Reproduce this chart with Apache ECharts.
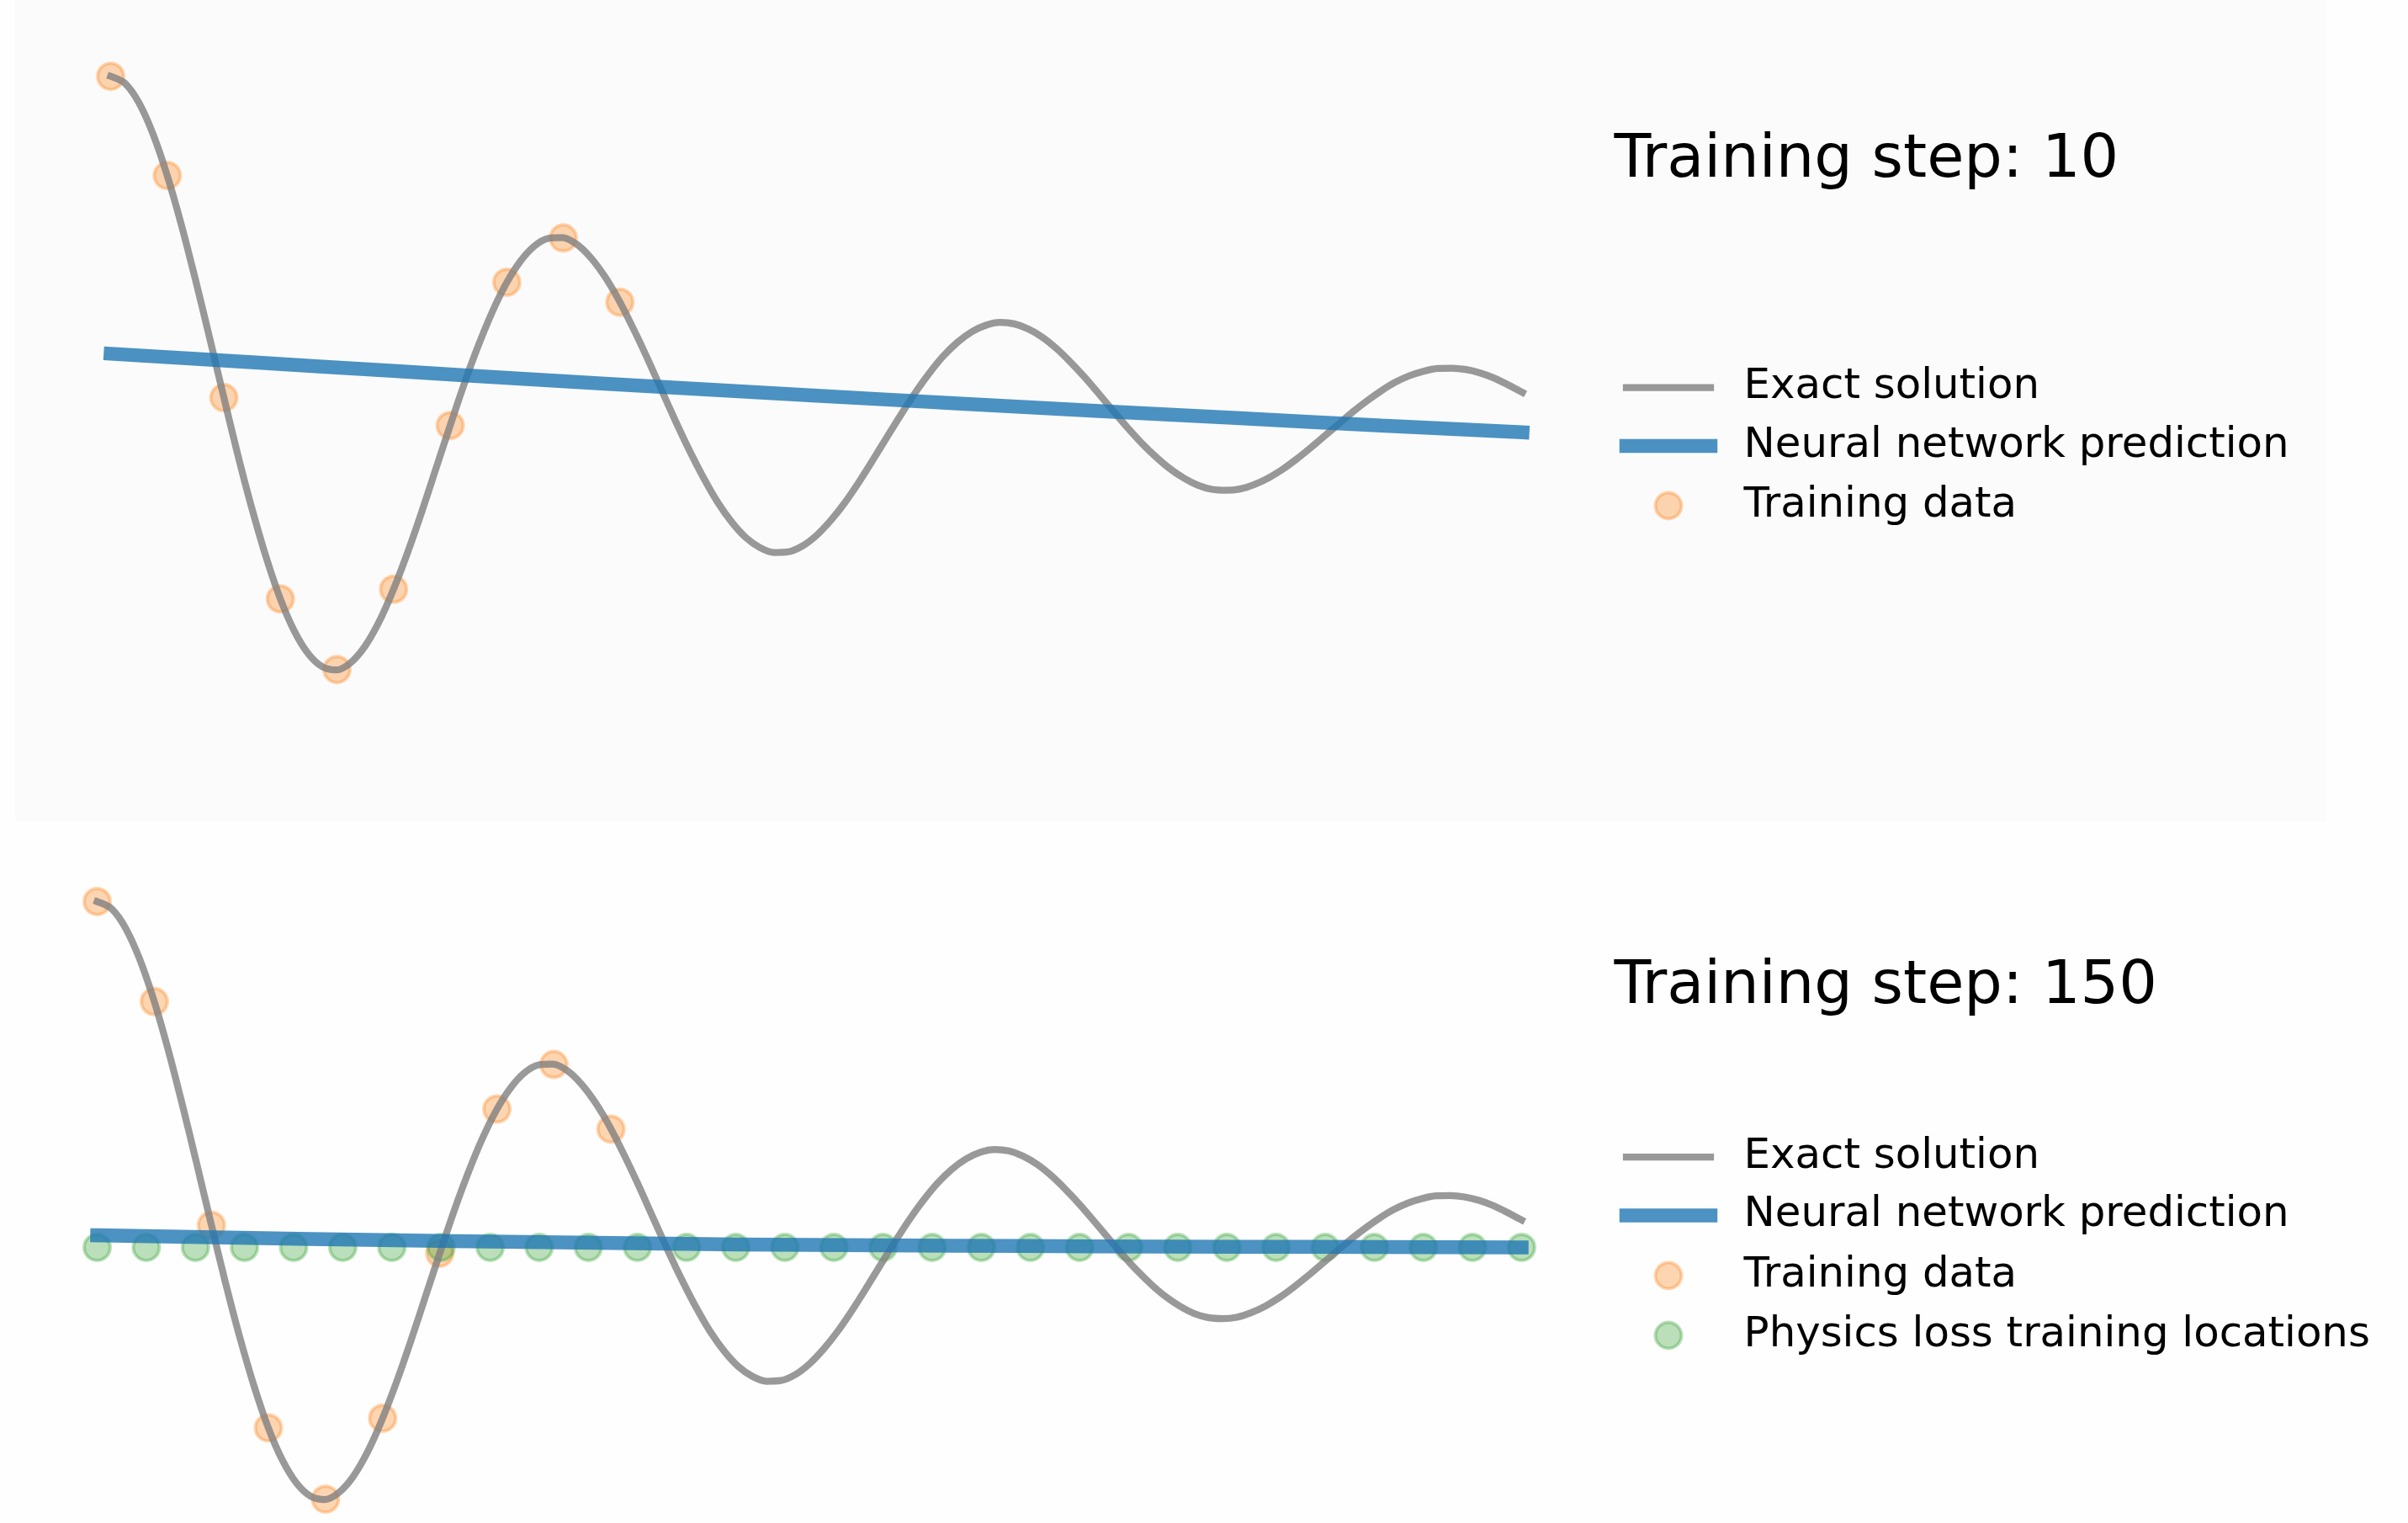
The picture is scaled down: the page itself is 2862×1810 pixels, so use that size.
<!DOCTYPE html>
<html>
<head>
<meta charset="utf-8">
<title>PINN training progress</title>
<script src="https://cdn.jsdelivr.net/npm/echarts@6.0.0/dist/echarts.min.js"></script>
<style>
  html, body { margin: 0; padding: 0; background: #fefefe; }
  #chart { width: 2862px; height: 1810px; }
</style>
</head>
<body>
<div id="chart"></div>
<script>
// ---- data -------------------------------------------------------------
// exact displacement of the damped oscillator, one sample every 0.01 on [0, 1]
const exactStep = 0.01;
const exactSolution = [
   1.000,  0.980,  0.923,  0.832,  0.712,  0.569,  0.409,  0.240,  0.068, -0.101,
  -0.258, -0.399, -0.520, -0.615, -0.682, -0.720, -0.729, -0.708, -0.661, -0.590,
  -0.498, -0.391, -0.273, -0.148, -0.023,  0.099,  0.211,  0.311,  0.395,  0.460,
   0.505,  0.528,  0.530,  0.511,  0.472,  0.417,  0.348,  0.267,  0.180,  0.088,
  -0.003, -0.090, -0.170, -0.241, -0.299, -0.344, -0.373, -0.387, -0.385, -0.368,
  -0.337, -0.294, -0.242, -0.182, -0.117, -0.050,  0.016,  0.079,  0.136,  0.186,
   0.226,  0.256,  0.275,  0.283,  0.279,  0.264,  0.240,  0.207,  0.167,  0.123,
   0.075,  0.026, -0.022, -0.067, -0.107, -0.142, -0.170, -0.191, -0.203, -0.206,
  -0.202, -0.189, -0.170, -0.145, -0.115, -0.082, -0.047, -0.012,  0.023,  0.055,
   0.084,  0.109,  0.128,  0.141,  0.149,  0.150,  0.146,  0.136,  0.121,  0.101,
   0.079
];

// observed samples used for the data loss
const trainX = [0, 0.0401, 0.0802, 0.1202, 0.1603, 0.2004, 0.2405, 0.2806, 0.3206, 0.3607];
const trainY = [1.000, 0.711, 0.064, -0.522, -0.728, -0.494, -0.017, 0.400, 0.529, 0.342];

// collocation points of the physics loss (drawn on the zero line)
const physicsX = [
  0, 0.0345, 0.0690, 0.1034, 0.1379, 0.1724, 0.2069, 0.2414, 0.2759, 0.3103,
  0.3448, 0.3793, 0.4138, 0.4483, 0.4828, 0.5172, 0.5517, 0.5862, 0.6207, 0.6552,
  0.6897, 0.7241, 0.7586, 0.7931, 0.8276, 0.8621, 0.8966, 0.9310, 0.9655, 1.0000
];
const physicsY = 0;

// network output, one sample every 0.1 on [0, 1]
const predStep = 0.1;
const predictionStep10  = [0.192, 0.167, 0.142, 0.117, 0.093, 0.070, 0.047, 0.025, 0.004, -0.017, -0.037];
const predictionStep150 = [0.035, 0.028, 0.021, 0.016, 0.011, 0.007, 0.005, 0.003, 0.002, 0.001, 0.000];

const trainingSteps = [10, 150];
const seriesNames = ['Exact solution', 'Neural network prediction', 'Training data', 'Physics loss training locations'];

// ---- styling ----------------------------------------------------------
const FONT = 'DejaVu Sans';
const GREY = 'rgba(128,128,128,0.8)';
const BLUE = 'rgba(31,119,180,0.8)';
const ORANGE = 'rgba(255,127,14,0.4)';
const GREEN = 'rgba(44,160,44,0.4)';
const LEGEND_FONT = 49.8;
const TITLE_FONT = 71.8;
const LEGEND_TEXT_X = 2072.6;   // left edge of legend labels
const HANDLE_X = 1933;          // start of legend handles

// one panel per training snapshot
const panels = [
  {
    grid: { left: 47.6, top: 49.9, width: 1845.8, height: 897.6 },
    yMin: -1.1, yMax: 1.1,
    prediction: predictionStep10,
    withPhysics: false,
    titleX: 1918.5, titleBaseline: 213,
    legendRows: [457, 526.5, 597.5]
  },
  {
    grid: { left: 30.85, top: 1030.4, width: 1862.3, height: 779.6 },
    yMin: -0.797, yMax: 1.1,
    prediction: predictionStep150,
    withPhysics: true,
    titleX: 1918.5, titleBaseline: 1195,
    legendRows: [1371.5, 1441, 1512.5, 1583.5]
  }
];

// legend handle looks, keyed by series name
const handleLook = {
  'Exact solution':                  { icon: 'rect',   w: 108.25, h: 8.25, dx: -4.125, color: GREY,   border: 0 },
  'Neural network prediction':       { icon: 'rect',   w: 116.5,  h: 16.5, dx: -8.25,  color: BLUE,   border: 0 },
  'Training data':                   { icon: 'circle', w: 100,    h: 31,   dx: 0,      color: ORANGE, border: 4 },
  'Physics loss training locations': { icon: 'circle', w: 100,    h: 31,   dx: 0,      color: GREEN,  border: 4 }
};

const grids = [], xAxes = [], yAxes = [], series = [], legends = [], graphics = [];

// faint panel backdrop of the first snapshot
graphics.push({
  type: 'rect', z: -10, silent: true,
  shape: { x: 18, y: 0, width: 2747, height: 976 },
  style: { fill: '#fbfbfb' }
});

panels.forEach((p, i) => {
  grids.push(Object.assign({ containLabel: false, show: false }, p.grid));
  xAxes.push({ type: 'value', gridIndex: i, min: -0.05, max: 1.05, show: false });
  yAxes.push({ type: 'value', gridIndex: i, min: p.yMin, max: p.yMax, show: false });

  const common = { xAxisIndex: i, yAxisIndex: i, silent: true, animation: false };

  series.push(Object.assign({
    name: seriesNames[2], type: 'scatter', z: 1,
    symbol: 'circle', symbolSize: 31,
    itemStyle: { color: ORANGE, borderColor: ORANGE, borderWidth: 4 },
    data: trainX.map((x, j) => [x, trainY[j]])
  }, common));

  if (p.withPhysics) {
    series.push(Object.assign({
      name: seriesNames[3], type: 'scatter', z: 1,
      symbol: 'circle', symbolSize: 31,
      itemStyle: { color: GREEN, borderColor: GREEN, borderWidth: 4 },
      data: physicsX.map(x => [x, physicsY])
    }, common));
  }

  series.push(Object.assign({
    name: seriesNames[0], type: 'line', z: 2,
    symbol: 'none', showSymbol: false, smooth: 0.3,
    itemStyle: { color: GREY },
    lineStyle: { color: GREY, width: 8.25, cap: 'square', join: 'round' },
    data: exactSolution.map((y, k) => [k * exactStep, y])
  }, common));

  series.push(Object.assign({
    name: seriesNames[1], type: 'line', z: 3,
    symbol: 'none', showSymbol: false, smooth: 0.5,
    itemStyle: { color: BLUE },
    lineStyle: { color: BLUE, width: 16.5, cap: 'square', join: 'round' },
    data: p.prediction.map((y, k) => [k * predStep, y])
  }, common));

  // title of the snapshot
  graphics.push({
    type: 'text', silent: true, z: 10,
    x: p.titleX, y: p.titleBaseline - 0.297 * TITLE_FONT,
    style: {
      text: 'Training step: ' + trainingSteps[i],
      fontFamily: FONT, fontSize: TITLE_FONT, fill: '#000',
      align: 'left', verticalAlign: 'middle'
    }
  });

  // one legend entry per row, so every handle keeps its own size
  const names = p.withPhysics ? seriesNames : seriesNames.slice(0, 3);
  names.forEach((name, r) => {
    const h = handleLook[name];
    const boxLeft = HANDLE_X + h.dx;
    // the legend is placed by its visible bounds; a circle sits centred in its box
    const visibleOffset = h.icon === 'circle' ? (h.w - h.h - h.border) / 2 : 0;
    legends.push({
      data: [name],
      selectedMode: false,
      left: boxLeft + visibleOffset,
      top: p.legendRows[r] - 24.5,
      padding: 0,
      icon: h.icon,
      itemWidth: h.w,
      itemHeight: h.h,
      itemStyle: { color: h.color, borderColor: h.color, borderWidth: h.border },
      textStyle: {
        fontFamily: FONT, fontSize: LEGEND_FONT, color: '#000',
        lineHeight: 50,
        padding: [6, 0, 0, LEGEND_TEXT_X - (boxLeft + h.w + 5)]
      }
    });
  });
});

const chart = echarts.init(document.getElementById('chart'), null, { renderer: 'canvas' });
chart.setOption({
  animation: false,
  backgroundColor: '#fefefe',
  grid: grids,
  xAxis: xAxes,
  yAxis: yAxes,
  legend: legends,
  series: series,
  graphic: { elements: graphics }
});
</script>
</body>
</html>
